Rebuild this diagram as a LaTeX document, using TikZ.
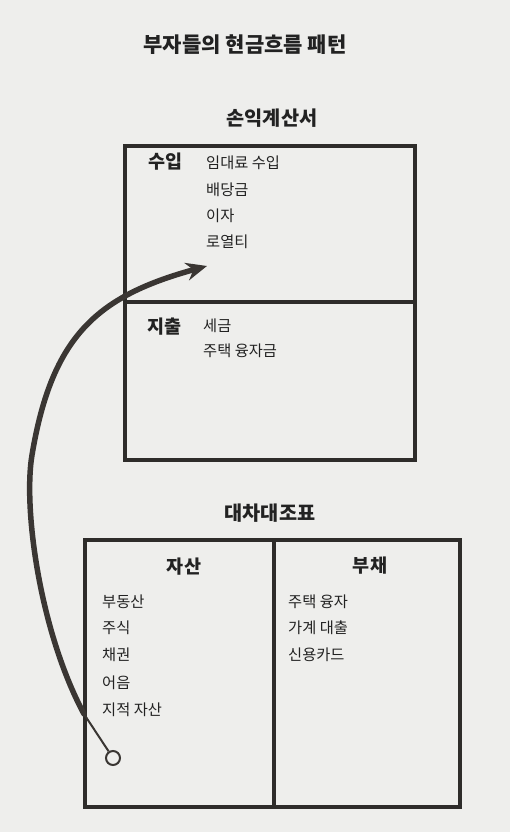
\documentclass[tikz,border=0pt]{standalone}
\usepackage{fontspec}
\setmainfont{Noto Sans CJK KR}
\usetikzlibrary{arrows.meta}
\definecolor{paper}{RGB}{238,238,236}
\definecolor{ink}{RGB}{34,34,34}
\definecolor{boxink}{RGB}{46,44,42}
\definecolor{arrowink}{RGB}{58,54,51}
\tikzset{
  boxpart/.style={draw=boxink, line width=3.5pt, anchor=north west, inner sep=0pt, minimum width=#1},
  item/.style={anchor=west, inner sep=0pt, text=ink, font=\fontsize{15.3}{18}\selectfont},
  heading/.style={anchor=west, inner sep=0pt, text=ink, font=\bfseries\fontsize{18.5}{21}\selectfont},
  colhead/.style={inner sep=0pt, text=ink, font=\bfseries\fontsize{18.5}{21}\selectfont},
  boxtitle/.style={inner sep=0pt, text=ink, font=\bfseries\fontsize{19.7}{23}\selectfont},
  maintitle/.style={inner sep=0pt, text=ink, font=\bfseries\fontsize{21}{24}\selectfont},
  flow/.style={draw=arrowink, line width=5.5pt, line cap=round},
  flowtail/.style={draw=arrowink, line width=2pt},
  startdot/.style={circle, draw=arrowink, line width=2pt, minimum size=14pt, inner sep=0pt}
}
\begin{document}
\begin{tikzpicture}[x=1pt, y=-1pt]
\fill[paper] (0,0) rectangle (510,832);
\useasboundingbox (0,0) rectangle (510,832);

% titles
\node[maintitle] (title) at (245,45) {부자들의 현금흐름 패턴};
\node[boxtitle] (istitle) at (272,118) {손익계산서};
\node[boxtitle] (bstitle) at (270,513) {대차대조표};

% income statement
\node[boxpart=290pt, minimum height=156pt] (income) at (123,144) {};
\node[boxpart=290pt, minimum height=158pt] (expense) at (123,300) {};

\node[heading] (inhead) at (148,162) {수입};
\node[item] (in1) at (206,163) {임대료 수입};
\node[item] (in2) at (206,190) {배당금};
\node[item] (in3) at (206,216) {이자};
\node[item] (in4) at (206,242) {로열티};

\node[heading] (exhead) at (147,327) {지출};
\node[item] (ex1) at (203,326) {세금};
\node[item] (ex2) at (203,351) {주택 융자금};

% balance sheet
\node[boxpart=189pt, minimum height=267pt] (assets) at (83,538) {};
\node[boxpart=186pt, minimum height=267pt] (liabs) at (272,538) {};

\node[colhead] (ashead) at (184,567) {자산};
\node[colhead] (lihead) at (370,566) {부채};

\node[item] (a1) at (102,602) {부동산};
\node[item] (a2) at (102,628) {주식};
\node[item] (a3) at (102,655) {채권};
\node[item] (a4) at (102,683) {어음};
\node[item] (a5) at (102,710) {지적 자산};

\node[item] (l1) at (288,602) {주택 융자};
\node[item] (l2) at (288,628) {가계 대출};
\node[item] (l3) at (288,655) {신용카드};

% cash flow arrow
\node[startdot] (start) at (113,758) {};
\coordinate (bend) at (84,714);
\coordinate (mid) at (32,455);
\coordinate (tip) at (207,266);
\draw[flowtail] (start) -- (bend);
\draw[flow, -{Stealth[length=21pt, width=18pt, inset=7pt]}]
  (bend) .. controls (40,632) and (23,509) .. (mid)
         .. controls (52,335) and (98,296) .. (tip);
\end{tikzpicture}
\end{document}
